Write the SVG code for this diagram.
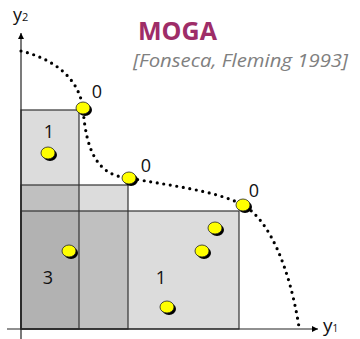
<svg xmlns="http://www.w3.org/2000/svg" width="360" height="339" viewBox="0 0 360 339">
  <defs>
    <style>
      .lbl { font-family: "Open Sans", "Noto Sans", sans-serif; font-size: 18px; fill: #111; text-anchor: middle; }
      .ax { font-family: "Open Sans", "Noto Sans", sans-serif; fill: #111; }
      .edge { fill: none; stroke: #333; stroke-width: 1.2; }
      .front { fill: none; stroke: #000; stroke-width: 3.2; stroke-linecap: round; stroke-dasharray: 0 6.6; }
      .axis { stroke: #222; stroke-width: 1.2; fill: none; }
    </style>
    <g id="dot">
      <ellipse cx="2" cy="2" rx="7" ry="6" fill="#000"/>
      <ellipse cx="0" cy="0" rx="7" ry="6" fill="#ffff00" stroke="#222" stroke-width="0.8"/>
    </g>
    <marker id="arr" viewBox="0 0 10 10" refX="10" refY="5" markerWidth="6" markerHeight="6" orient="auto" markerUnits="userSpaceOnUse">
      <path d="M0,0 L10,5 L0,10 z" fill="#000"/>
    </marker>
  </defs>

  <rect width="360" height="339" fill="#fff"/>

  <g id="title">
    <text x="138" y="40" font-family="'Open Sans', 'Noto Sans', sans-serif" font-weight="bold" font-size="25" fill="#9e2d68" textLength="79" lengthAdjust="spacingAndGlyphs">MOGA</text>
    <text x="133" y="67" font-family="'Open Sans', 'Noto Sans', sans-serif" font-style="italic" font-size="19" fill="#808080" textLength="215" lengthAdjust="spacingAndGlyphs">[Fonseca, Fleming 1993]</text>
  </g>

  <g id="regions">
    <rect x="21" y="110" width="58" height="75" fill="#dcdcdc"/>
    <rect x="21" y="185" width="58" height="26" fill="#c0c0c0"/>
    <rect x="79" y="185" width="49" height="26" fill="#dcdcdc"/>
    <rect x="21" y="211" width="58" height="118" fill="#b2b2b2"/>
    <rect x="79" y="211" width="49" height="118" fill="#c0c0c0"/>
    <rect x="128" y="211" width="111" height="118" fill="#dcdcdc"/>
    <rect class="edge" x="21" y="110" width="58" height="219"/>
    <rect class="edge" x="21" y="185" width="107" height="144"/>
    <rect class="edge" x="21" y="211" width="218" height="118"/>
  </g>

  <g id="axes">
    <line class="axis" x1="7" y1="329" x2="318" y2="329" marker-end="url(#arr)"/>
    <line class="axis" x1="21" y1="339" x2="21" y2="33" marker-end="url(#arr)"/>
    <text class="ax" x="13" y="21" font-size="18">y<tspan font-size="11">2</tspan></text>
    <text class="ax" x="323" y="332" font-size="19">y<tspan font-size="10">1</tspan></text>
  </g>

  <g id="connectors">
    <path class="front" d="M21,51 C50,58 78,75 83,108 C86,150 97,176 129,178 C165,185 215,190 243,205 C270,220 290,270 299,327"/>
  </g>

  <g id="p1"><use href="#dot" x="83" y="108"/><text class="lbl" x="97" y="98">0</text></g>
  <g id="p2"><use href="#dot" x="129" y="178"/><text class="lbl" x="146" y="172">0</text></g>
  <g id="p3"><use href="#dot" x="243" y="205"/><text class="lbl" x="254" y="197">0</text></g>
  <g id="p4"><use href="#dot" x="48" y="153"/><text class="lbl" x="49" y="138">1</text></g>
  <g id="p5"><use href="#dot" x="69" y="251"/><text class="lbl" x="48" y="284">3</text></g>
  <g id="p6"><use href="#dot" x="167" y="307"/><text class="lbl" x="161" y="284">1</text></g>
  <g id="p7"><use href="#dot" x="215" y="228"/></g>
  <g id="p8"><use href="#dot" x="202" y="251"/></g>
</svg>
